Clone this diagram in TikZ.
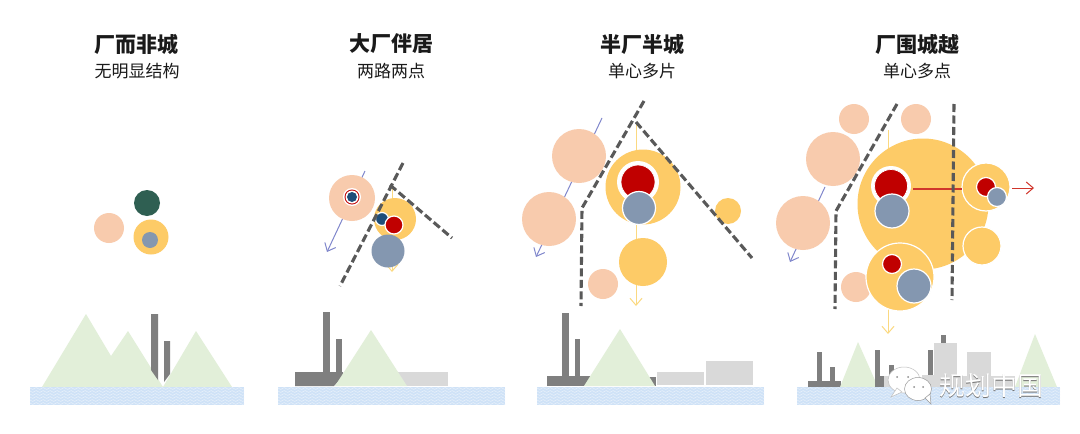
\documentclass[tikz,border=0pt]{standalone}
\usepackage{fontspec}
\setmainfont{Noto Sans CJK SC}
\usetikzlibrary{arrows.meta,decorations.pathmorphing}
\definecolor{pinkc}{HTML}{F8CBAD}
\definecolor{yelc}{HTML}{FDCB67}
\definecolor{yelline}{HTML}{FBD981}
\definecolor{redc}{HTML}{C00000}
\definecolor{redline}{HTML}{D0352B}
\definecolor{navyc}{HTML}{1F4E79}
\definecolor{slatec}{HTML}{8497B0}
\definecolor{greenc}{HTML}{2F5F52}
\definecolor{dashc}{HTML}{595959}
\definecolor{mtc}{HTML}{E2EFD9}
\definecolor{factc}{HTML}{7F7F7F}
\definecolor{bldc}{HTML}{D9D9D9}
\definecolor{watc}{HTML}{CFE2F7}
\definecolor{wavc}{HTML}{EAF2FB}
\definecolor{arrblue}{HTML}{8087CC}
\definecolor{txtc}{HTML}{1A1A1A}
\tikzset{
  disc/.style={circle,inner sep=0pt,outer sep=0pt,minimum size=#1},
  ringed/.style={draw=white,line width=1.2pt},
  road/.style={draw=dashc,line width=3.1pt,dash pattern=on 8pt off 3.5pt},
  flow/.style={line width=1pt,-{Straight Barb[length=7pt,width=12pt]}},
  titletxt/.style={font=\fontsize{21}{24}\selectfont\bfseries,text=txtc,inner sep=0pt},
  subtxt/.style={font=\fontsize{17}{20}\selectfont,text=txtc,inner sep=0pt},
  mountain/.style={fill=mtc},
  factory/.style={fill=factc},
  bld/.style={fill=bldc}
}
\newcommand{\waterband}[2]{%
  \fill[watc] (#1,387) rectangle (#2,405);
  \begin{scope}
    \clip (#1,387) rectangle (#2,405);
    \foreach \yy in {388.5,391.5,...,405}
      \draw[wavc,line width=.5pt,decorate,decoration={snake,amplitude=.9pt,segment length=7pt}] (#1-3,\yy) -- (#2+3,\yy);
  \end{scope}}
\begin{document}
\begin{tikzpicture}[x=1pt,y=-1pt]
\useasboundingbox (0,0) rectangle (1080,434);
\fill[white] (0,0) rectangle (1080,434);
% titles
\node[titletxt] (t1) at (136.5,44) {厂而非城};
\node[subtxt] (s1) at (137,71) {无明显结构};
\node[titletxt] (t2) at (391,44) {大厂伴居};
\node[subtxt] (s2) at (391,71) {两路两点};
\node[titletxt] (t3) at (642,44) {半厂半城};
\node[subtxt] (s3) at (642,71) {单心多片};
\node[titletxt] (t4) at (917,44) {厂围城越};
\node[subtxt] (s4) at (917,71) {单心多点};
% ---- panel 1 diagram
\node[disc=30pt,fill=pinkc] (a1) at (109,228) {};
\node[disc=26pt,fill=greenc] (a2) at (147,203) {};
\node[disc=35pt,fill=yelc] (a3) at (151,237) {};
\node[disc=16pt,fill=slatec] (a4) at (150,240) {};
% ---- panel 2 diagram
\coordinate (b0) at (365,171);
\coordinate (b1) at (327,252);
\draw[flow,arrblue] (b0) -- (b1);
\coordinate (by0) at (392,185);
\coordinate (by1) at (392,272);
\draw[flow,yelline] (by0) -- (by1);
\node[disc=46pt,fill=pinkc] (bp) at (352,198) {};
\node[disc=18pt,fill=white] (bw) at (352,197) {};
\node[disc=15pt,fill=redc] (br) at (352,197) {};
\node[disc=13pt,fill=white] (bw2) at (352,197) {};
\node[disc=10pt,fill=navyc] (bn) at (352,197) {};
\node[disc=42pt,fill=yelc] (by) at (395,219) {};
\node[disc=13pt,fill=navyc,ringed] (bn2) at (382,219) {};
\node[disc=18pt,fill=redc,ringed] (br2) at (394,225) {};
\node[disc=33pt,fill=slatec] (bs) at (388,251) {};
\coordinate (bd1) at (403,163);
\coordinate (bd2) at (340,286);
\coordinate (bd3) at (390,185);
\coordinate (bd4) at (452,238);
\draw[road] (bd1) -- (bd2);
\draw[road] (bd3) -- (bd4);
% ---- panel 3 diagram
\coordinate (c0) at (602,118);
\coordinate (c1) at (536,257);
\draw[flow,arrblue] (c0) -- (c1);
\coordinate (cy0) at (636,122);
\coordinate (cy1) at (636,306);
\draw[flow,yelline] (cy0) -- (cy1);
\node[disc=54pt,fill=pinkc] (cp1) at (579,156) {};
\node[disc=54pt,fill=pinkc] (cp2) at (549,219) {};
\node[disc=30pt,fill=pinkc] (cp3) at (603,284) {};
\node[disc=75pt,fill=yelc] (cy) at (643,187) {};
\node[disc=42pt,fill=white] (cw) at (638,182) {};
\node[disc=34pt,fill=redc,draw=white,line width=.7pt] (cr) at (638,182) {};
\node[disc=33pt,fill=slatec,ringed] (cs) at (639,208) {};
\node[disc=26pt,fill=yelc] (cy2) at (728,211) {};
\node[disc=48pt,fill=yelc] (cy3) at (643,262) {};
\coordinate (cd1) at (644,101);
\coordinate (cd2) at (582,208);
\coordinate (cd3) at (581,306);
\coordinate (cd4) at (636,122);
\coordinate (cd5) at (752,258);
\draw[road] (cd1) -- (cd2) -- (cd3);
\draw[road] (cd4) -- (cd5);
% ---- panel 4 diagram
\coordinate (d0) at (825,187);
\coordinate (d1) at (790,262);
\draw[flow,arrblue] (d0) -- (d1);
\coordinate (dy0) at (888,130);
\coordinate (dy1) at (888,334);
\draw[flow,yelline] (dy0) -- (dy1);
\node[disc=30pt,fill=pinkc] (dp1) at (854,119) {};
\node[disc=30pt,fill=pinkc] (dp2) at (916,119) {};
\node[disc=54pt,fill=pinkc] (dp3) at (833,159) {};
\node[disc=54pt,fill=pinkc] (dp4) at (803,223) {};
\node[disc=30pt,fill=pinkc] (dp5) at (856,287) {};
\node[disc=131pt,fill=yelc] (dy) at (923,204) {};
\node[disc=40pt,fill=white] (dw) at (891,186) {};
\node[disc=33pt,fill=redc,draw=white,line width=.7pt] (dr) at (891,186) {};
\node[disc=34pt,fill=slatec,ringed] (ds) at (892,211) {};
\node[disc=68pt,fill=yelc,ringed] (dy2) at (900,277) {};
\node[disc=19pt,fill=redc,ringed] (dr2) at (892,264) {};
\node[disc=34pt,fill=slatec,ringed] (ds2) at (914,286) {};
\node[disc=38pt,fill=yelc,ringed] (dy3) at (982,246) {};
\node[disc=48pt,fill=yelc,ringed] (dy4) at (986,187) {};
\node[disc=19pt,fill=redc,ringed] (dr3) at (986,187) {};
\node[disc=19pt,fill=slatec,ringed] (ds3) at (997,197) {};
\coordinate (dra) at (913,189);
\coordinate (drb) at (1034,188);
\coordinate (drm) at (962,189);
\coordinate (drn) at (1012,188);
\draw[redline,line width=1.3pt] (dra) -- (drm);
\draw[flow,redline] (drn) -- (drb);
\coordinate (dd1) at (897,104);
\coordinate (dd2) at (836,211);
\coordinate (dd3) at (835,309);
\coordinate (dd4) at (954,104);
\coordinate (dd5) at (952,300);
\draw[road] (dd1) -- (dd2) -- (dd3);
\draw[road] (dd4) -- (dd5);
% ---- panel 1 landscape
\fill[mountain] (42,387) -- (86,314) -- (111,356) -- (128,331) -- (163,387) -- cycle;
\fill[mountain] (163,387) -- (196,331) -- (232,387) -- cycle;
\fill[factory] (151,314) -- (158,314) -- (158,380) -- (151,370) -- cycle;
\fill[factory] (164,341) -- (170,341) -- (170,374) -- (164,382) -- cycle;
\waterband{30}{244}
% ---- panel 2 landscape
\fill[bld] (397,372) rectangle (448,386);
\fill[factory] (295,372) -- (343,372) -- (343,376) -- (334,386) -- (295,386) -- cycle;
\fill[factory] (323,312) rectangle (330,373);
\fill[factory] (336,339) rectangle (342,373);
\fill[mountain] (335,386) -- (371,330) -- (407,386) -- cycle;
\waterband{278}{505}
% ---- panel 3 landscape
\fill[factory] (547,376) rectangle (592,386);
\fill[factory] (562,313) rectangle (569,377);
\fill[factory] (575,339) rectangle (580,377);
\fill[factory] (648,377) -- (656,377) -- (656,386) -- (648,386) -- cycle;
\fill[mountain] (584,386) -- (620,329) -- (655,386) -- cycle;
\fill[bld] (657,372) rectangle (704,385);
\fill[bld] (706,361) rectangle (753,385);
\waterband{537}{764}
% ---- panel 4 landscape
\fill[factory] (808,381) rectangle (841,387);
\fill[factory] (817,352) rectangle (822,382);
\fill[factory] (830,367) rectangle (835,382);
\fill[mountain] (840,387) -- (858,342) -- (878,387) -- cycle;
\fill[factory] (875,350) rectangle (880,387);
\fill[factory] (876,376) rectangle (895,387);
\fill[factory] (889,365) rectangle (894,378);
\fill[bld] (884,376) rectangle (905,387);
\fill[factory] (928,350) rectangle (933,376);
\fill[bld] (922,375) rectangle (946,387);
\fill[bld] (934,343) rectangle (957,387);
\fill[factory] (941,335) rectangle (946,343);
\fill[bld] (967,352) rectangle (991,387);
\fill[bld] (957,376) rectangle (1015,387);
\fill[mountain] (1015,387) -- (1035,334) -- (1057,387) -- cycle;
\waterband{797}{1060}
% ---- watermark
\begin{scope}[line width=.5pt]
  \fill[white,draw=black!25] (904,380) ellipse (16pt and 13pt);
  \fill[white,draw=black!25] (891,397) -- (897,388) -- (902,392) -- cycle;
  \fill[white,draw=black!40] (918,389) ellipse (13.5pt and 11.5pt);
  \fill[white,draw=black!40] (925,398) -- (931,404) -- (930,394) -- cycle;
  \fill[black!45] (897,377) circle (1pt) (908,377) circle (1pt) (914,387) circle (1pt) (923,387) circle (1pt);
\end{scope}
\node[font=\fontsize{26}{29}\selectfont,text=black!55,inner sep=0pt] (wms) at (991.8,386.8) {规划中国};
\node[font=\fontsize{26}{29}\selectfont,text=white,inner sep=0pt] (wm) at (991,386) {规划中国};
\end{tikzpicture}
\end{document}
